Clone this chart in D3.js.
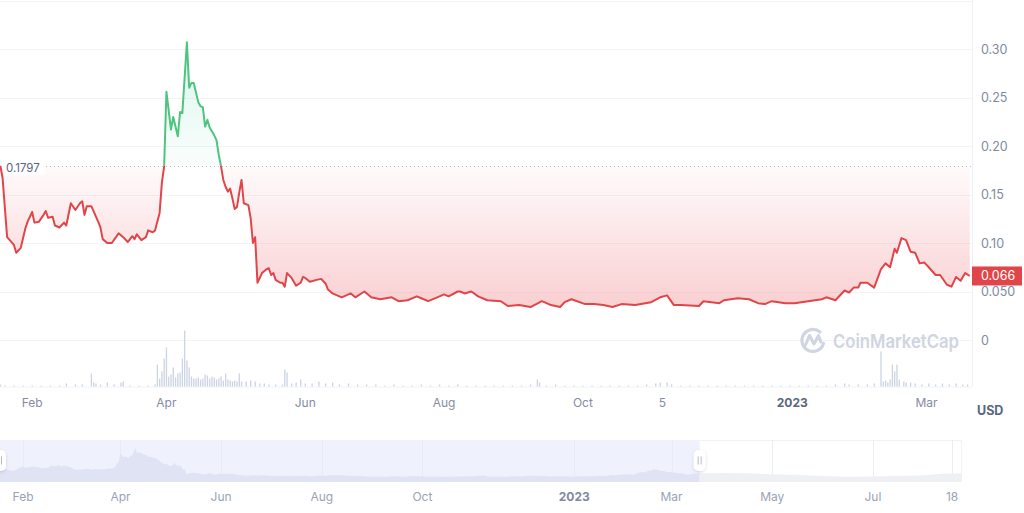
<!DOCTYPE html>
<html><head><meta charset="utf-8">
<script src="https://cdn.jsdelivr.net/npm/d3@7"></script>
<style>body{margin:0;background:#fff;font-family:Inter,"Noto Sans",sans-serif;}svg{display:block}</style>
</head><body><svg id="c" width="1024" height="513"></svg>
<script>
// ---------- DATA ----------
const basePrice = 0.1797;
const lastPrice = 0.066;
const pricePoints = [
["2022-01-18",0.1797],["2022-01-19",0.167],["2022-01-21",0.106],["2022-01-24",0.098],["2022-01-25",0.090],
["2022-01-27",0.095],["2022-01-29",0.115],["2022-01-30",0.122],["2022-02-01",0.132],["2022-02-02",0.121],
["2022-02-04",0.122],["2022-02-06",0.129],["2022-02-07",0.133],["2022-02-08",0.126],["2022-02-10",0.127],
["2022-02-11",0.118],["2022-02-13",0.116],["2022-02-15",0.121],["2022-02-16",0.118],["2022-02-18",0.141],
["2022-02-20",0.134],["2022-02-22",0.141],["2022-02-23",0.143],["2022-02-24",0.129],["2022-02-25",0.138],
["2022-02-27",0.138],["2022-03-02",0.122],["2022-03-03",0.116],["2022-03-04",0.104],["2022-03-06",0.100],
["2022-03-08",0.100],["2022-03-11",0.110],["2022-03-13",0.106],["2022-03-15",0.101],["2022-03-17",0.107],
["2022-03-18",0.104],["2022-03-19",0.109],["2022-03-21",0.103],["2022-03-23",0.106],["2022-03-24",0.113],
["2022-03-26",0.111],["2022-03-27",0.113],["2022-03-29",0.131],["2022-03-30",0.162],["2022-03-31",0.179],
["2022-04-01",0.256],["2022-04-03",0.217],["2022-04-04",0.230],["2022-04-06",0.210],["2022-04-07",0.235],
["2022-04-08",0.234],["2022-04-10",0.307],["2022-04-11",0.260],["2022-04-12",0.265],["2022-04-13",0.265],
["2022-04-15",0.245],["2022-04-16",0.241],["2022-04-17",0.240],["2022-04-18",0.220],["2022-04-19",0.227],
["2022-04-20",0.219],["2022-04-22",0.211],["2022-04-23",0.206],["2022-04-24",0.191],["2022-04-25",0.179],
["2022-04-26",0.165],["2022-04-27",0.158],["2022-04-28",0.153],["2022-04-29",0.156],["2022-04-30",0.146],
["2022-05-01",0.135],["2022-05-02",0.137],["2022-05-03",0.152],["2022-05-04",0.165],["2022-05-05",0.141],
["2022-05-07",0.139],["2022-05-08",0.126],["2022-05-09",0.100],["2022-05-10",0.106],["2022-05-11",0.059],
["2022-05-13",0.069],["2022-05-15",0.073],["2022-05-16",0.074],["2022-05-17",0.067],["2022-05-18",0.069],
["2022-05-19",0.062],["2022-05-21",0.059],["2022-05-22",0.059],["2022-05-23",0.055],["2022-05-24",0.069],
["2022-05-26",0.064],["2022-05-28",0.056],["2022-05-30",0.059],["2022-05-31",0.065],["2022-06-01",0.064],
["2022-06-03",0.060],["2022-06-06",0.062],["2022-06-08",0.063],["2022-06-10",0.058],["2022-06-11",0.052],
["2022-06-13",0.048],["2022-06-17",0.044],["2022-06-21",0.048],["2022-06-23",0.044],["2022-06-27",0.050],
["2022-06-30",0.044],["2022-07-04",0.042],["2022-07-09",0.044],["2022-07-12",0.040],["2022-07-16",0.041],
["2022-07-20",0.045],["2022-07-22",0.043],["2022-07-25",0.040],["2022-07-29",0.044],["2022-08-01",0.047],
["2022-08-03",0.045],["2022-08-07",0.050],["2022-08-08",0.050],["2022-08-10",0.048],["2022-08-13",0.050],
["2022-08-16",0.045],["2022-08-20",0.041],["2022-08-26",0.040],["2022-08-29",0.035],["2022-09-03",0.036],
["2022-09-08",0.034],["2022-09-13",0.040],["2022-09-17",0.036],["2022-09-21",0.034],["2022-09-23",0.039],
["2022-09-26",0.042],["2022-10-02",0.037],["2022-10-06",0.037],["2022-10-10",0.036],["2022-10-14",0.034],
["2022-10-18",0.037],["2022-10-24",0.036],["2022-10-31",0.039],["2022-11-04",0.044],["2022-11-07",0.046],
["2022-11-10",0.036],["2022-11-13",0.036],["2022-11-21",0.035],["2022-11-23",0.040],["2022-11-30",0.038],
["2022-12-02",0.041],["2022-12-08",0.043],["2022-12-13",0.042],["2022-12-17",0.038],["2022-12-20",0.037],
["2022-12-23",0.040],["2022-12-29",0.038],["2023-01-02",0.038],["2023-01-08",0.040],["2023-01-14",0.042],
["2023-01-16",0.044],["2023-01-20",0.041],["2023-01-24",0.051],["2023-01-26",0.049],["2023-01-28",0.054],
["2023-01-30",0.054],["2023-01-31",0.059],["2023-02-03",0.059],["2023-02-06",0.054],["2023-02-09",0.073],
["2023-02-11",0.079],["2023-02-13",0.075],["2023-02-15",0.094],["2023-02-16",0.090],["2023-02-18",0.105],
["2023-02-20",0.103],["2023-02-22",0.091],["2023-02-24",0.090],["2023-02-26",0.079],["2023-02-28",0.080],
["2023-03-02",0.075],["2023-03-05",0.067],["2023-03-07",0.067],["2023-03-10",0.057],["2023-03-12",0.055],
["2023-03-14",0.065],["2023-03-16",0.061],["2023-03-18",0.069],["2023-03-20",0.066]
];
const volumePoints = [
["2022-01-18",2],["2022-01-20",1],["2022-01-24",1],["2022-01-28",1],["2022-02-01",1],["2022-02-05",1],
["2022-02-09",1],["2022-02-13",1],["2022-02-16",3],["2022-02-20",2],["2022-02-23",2],["2022-02-27",13],
["2022-02-28",4],["2022-03-01",3],["2022-03-03",2],["2022-03-06",4],["2022-03-09",2],["2022-03-12",4],
["2022-03-13",5],["2022-03-16",1],["2022-03-20",1],["2022-03-24",1],["2022-03-27",2],["2022-03-28",22],
["2022-03-29",8],["2022-03-30",15],["2022-03-31",28],["2022-04-01",39],["2022-04-02",10],["2022-04-03",12],
["2022-04-04",19],["2022-04-05",9],["2022-04-06",13],["2022-04-07",14],["2022-04-08",28],["2022-04-09",56],
["2022-04-10",26],["2022-04-11",19],["2022-04-12",10],["2022-04-13",8],["2022-04-14",8],["2022-04-15",9],
["2022-04-16",7],["2022-04-17",8],["2022-04-18",12],["2022-04-19",11],["2022-04-20",8],["2022-04-21",10],
["2022-04-22",9],["2022-04-23",7],["2022-04-24",8],["2022-04-25",10],["2022-04-26",6],["2022-04-27",13],
["2022-04-28",7],["2022-04-29",6],["2022-04-30",5],["2022-05-01",6],["2022-05-02",5],["2022-05-03",13],
["2022-05-04",5],["2022-05-06",5],["2022-05-08",6],["2022-05-10",5],["2022-05-12",3],["2022-05-14",3],
["2022-05-16",2],["2022-05-19",2],["2022-05-22",2],["2022-05-23",17],["2022-05-24",14],["2022-05-26",3],
["2022-05-28",4],["2022-05-30",7],["2022-06-01",3],["2022-06-04",3],["2022-06-07",5],["2022-06-10",3],
["2022-06-13",4],["2022-06-16",2],["2022-06-20",3],["2022-06-24",2],["2022-06-28",2],["2022-07-02",2],
["2022-07-06",1],["2022-07-10",2],["2022-07-14",1],["2022-07-18",1],["2022-07-22",2],["2022-07-26",1],
["2022-07-30",2],["2022-08-03",1],["2022-08-07",2],["2022-08-11",1],["2022-08-15",1],["2022-08-19",1],
["2022-08-23",1],["2022-08-27",1],["2022-08-31",1],["2022-09-04",1],["2022-09-08",2],["2022-09-11",7],
["2022-09-12",4],["2022-09-15",1],["2022-09-19",2],["2022-09-23",1],["2022-09-27",1],["2022-10-01",1],
["2022-10-05",1],["2022-10-09",1],["2022-10-13",1],["2022-10-17",1],["2022-10-21",1],["2022-10-25",1],
["2022-10-29",2],["2022-11-02",3],["2022-11-04",4],["2022-11-07",4],["2022-11-09",2],["2022-11-13",1],
["2022-11-17",1],["2022-11-21",1],["2022-11-25",1],["2022-11-29",1],["2022-12-03",1],["2022-12-07",1],
["2022-12-11",1],["2022-12-15",1],["2022-12-19",1],["2022-12-23",1],["2022-12-27",1],["2022-12-31",1],
["2023-01-04",1],["2023-01-08",1],["2023-01-12",1],["2023-01-16",1],["2023-01-20",2],["2023-01-24",3],
["2023-01-26",2],["2023-01-30",2],["2023-02-03",2],["2023-02-06",3],["2023-02-09",35],["2023-02-10",5],
["2023-02-11",6],["2023-02-12",4],["2023-02-13",7],["2023-02-14",22],["2023-02-15",15],["2023-02-16",22],
["2023-02-17",7],["2023-02-19",5],["2023-02-20",4],["2023-02-22",4],["2023-02-24",3],["2023-02-27",2],
["2023-03-02",3],["2023-03-05",2],["2023-03-08",3],["2023-03-11",2],["2023-03-14",3],["2023-03-17",2],
["2023-03-19",2]
];
// navigator history after the visible window
const navExtraPoints = [
["2023-04-01",0.070],["2023-04-15",0.067],["2023-05-01",0.058],["2023-05-15",0.052],["2023-06-01",0.042],
["2023-06-15",0.035],["2023-07-01",0.037],["2023-07-15",0.042],["2023-08-01",0.050],["2023-08-12",0.062],
["2023-08-24",0.067]
];
const yTickValues = [0, 0.05, 0.10, 0.15, 0.20, 0.25, 0.30];
const yTickLabels = ["0", "0.050", "0.10", "0.15", "0.20", "0.25", "0.30"];
const xTicks = [["2022-02-01","Feb"],["2022-04-01","Apr"],["2022-06-01","Jun"],["2022-08-01","Aug"],
  ["2022-10-01","Oct"],["2022-11-05","5"],["2023-01-01","2023"],["2023-03-01","Mar"]];
const navTicks = [["2022-02-01","Feb"],["2022-04-01","Apr"],["2022-06-01","Jun"],["2022-08-01","Aug"],
  ["2022-10-01","Oct"],["2023-01-01","2023"],["2023-03-01","Mar"],["2023-05-01","May"],
  ["2023-07-01","Jul"],["2023-08-18","18"]];

// ---------- CHART ----------
const parse = d3.utcParse("%Y-%m-%d");
const price = pricePoints.map(d => ({date: parse(d[0]), value: d[1]}));
const volume = volumePoints.map(d => ({date: parse(d[0]), value: d[1]}));
const navData = price.concat(navExtraPoints.map(d => ({date: parse(d[0]), value: d[1]})));

const svg = d3.select("#c");
const W = 972, Y0 = 340, VB = 386.5;
const x = d3.scaleUtc().domain([parse("2022-01-18"), parse("2023-03-21")]).range([0.3, W]);
const y = d3.scaleLinear().domain([0, 0.30]).range([Y0, 49]);
const yv = d3.scaleLinear().domain([0, 60]).range([VB, VB - 60]);
const yb = y(basePrice);

const defs = svg.append("defs");
const gR = defs.append("linearGradient").attr("id","gR").attr("gradientUnits","userSpaceOnUse")
  .attr("x1",0).attr("x2",0).attr("y1",yb).attr("y2",300);
gR.append("stop").attr("offset",0).attr("stop-color","#ea3943").attr("stop-opacity",0.02);
gR.append("stop").attr("offset",1).attr("stop-color","#ea3943").attr("stop-opacity",0.23);
const gG = defs.append("linearGradient").attr("id","gG").attr("gradientUnits","userSpaceOnUse")
  .attr("x1",0).attr("x2",0).attr("y1",42).attr("y2",yb);
gG.append("stop").attr("offset",0).attr("stop-color","#16c784").attr("stop-opacity",0.16);
gG.append("stop").attr("offset",1).attr("stop-color","#16c784").attr("stop-opacity",0.02);
defs.append("clipPath").attr("id","cA").append("rect").attr("x",0).attr("y",0).attr("width",W).attr("height",yb);
defs.append("clipPath").attr("id","cB").append("rect").attr("x",0).attr("y",yb).attr("width",W).attr("height",400);
const sh = defs.append("filter").attr("id","sh").attr("x","-80%").attr("y","-80%").attr("width","260%").attr("height","260%");
sh.append("feDropShadow").attr("dx",0).attr("dy",1).attr("stdDeviation",1.5).attr("flood-color","#58667e").attr("flood-opacity",0.25);

// grid
svg.append("line").attr("x1",0).attr("x2",W).attr("y1",1.5).attr("y2",1.5).attr("stroke","#f1f3f6");
svg.selectAll(".grid").data(yTickValues).enter().append("line")
  .attr("x1",0).attr("x2",W).attr("y1",d=>Math.round(y(d))+0.5).attr("y2",d=>Math.round(y(d))+0.5)
  .attr("stroke","#f3f4f7");
svg.append("line").attr("x1",W+0.5).attr("x2",W+0.5).attr("y1",0).attr("y2",VB).attr("stroke","#eff2f5");
svg.append("line").attr("x1",0).attr("x2",W).attr("y1",VB+0.5).attr("y2",VB+0.5).attr("stroke","#eff2f5");

// watermark
const wm = svg.append("g").attr("fill","none").attr("stroke","#cfd5e1");
wm.append("path").attr("d","M823.5,343.5 A11,11 0 1 1 820,332").attr("stroke-width",3.2).attr("stroke-linecap","round");
wm.append("path").attr("d","M805,346 L809.5,335.5 L814,344 L818.5,335.5 L821,342").attr("stroke-width",3).attr("stroke-linejoin","round").attr("stroke-linecap","round");
svg.append("text").attr("x",833).attr("y",347.5).attr("font-size",19).attr("font-weight",600)
  .attr("textLength",126).attr("lengthAdjust","spacingAndGlyphs")
  .attr("fill","#cfd5e1").text("CoinMarketCap");

// volume
svg.append("g").selectAll("rect").data(volume).enter().append("rect")
  .attr("x",d=>x(d.date)-0.6).attr("width",1.3)
  .attr("y",d=>yv(d.value)).attr("height",d=>VB-yv(d.value)).attr("fill","#ccd3e2");

// areas
const area = d3.area().x(d=>x(d.date)).y0(yb).y1(d=>y(d.value));
svg.append("path").datum(price).attr("d",area).attr("fill","url(#gG)").attr("clip-path","url(#cA)");
svg.append("path").datum(price).attr("d",area).attr("fill","url(#gR)").attr("clip-path","url(#cB)");

// baseline dotted
svg.append("line").attr("x1",46).attr("x2",W).attr("y1",Math.round(yb)+0.5).attr("y2",Math.round(yb)+0.5)
  .attr("stroke","#b8c0cc").attr("stroke-dasharray","1 3");

// lines
const line = d3.line().x(d=>x(d.date)).y(d=>y(d.value));
svg.append("path").datum(price).attr("d",line).attr("fill","none").attr("stroke","#4fc47f")
  .attr("stroke-width",2).attr("stroke-linejoin","round").attr("clip-path","url(#cA)");
svg.append("path").datum(price).attr("d",line).attr("fill","none").attr("stroke","#e04649")
  .attr("stroke-width",2).attr("stroke-linejoin","round").attr("clip-path","url(#cB)");

// base label
svg.append("rect").attr("x",4).attr("y",158).attr("width",41).attr("height",17).attr("fill","#fff").attr("rx",2);
svg.append("text").attr("x",6).attr("y",171.5).attr("font-size",11.5).attr("fill","#58667e").text(basePrice.toFixed(4));

// y axis labels
svg.selectAll(".yl").data(yTickValues).enter().append("text")
  .attr("x",981).attr("y",d=>y(d)+4.5).attr("font-size",12.5).attr("fill","#808a9d")
  .text((d,i)=>yTickLabels[i]);

// current price tag
svg.append("rect").attr("x",W).attr("y",y(lastPrice)-9.5).attr("width",50).attr("height",19).attr("fill","#e04649");
svg.append("text").attr("x",981).attr("y",y(lastPrice)+4.5).attr("font-size",12.5).attr("fill","#fff").text(lastPrice.toFixed(3));

// x axis labels
svg.selectAll(".xl").data(xTicks).enter().append("text")
  .attr("x",d=>x(parse(d[0]))).attr("y",407).attr("text-anchor","middle").attr("font-size",12)
  .attr("font-weight",d=>d[1]==="2023"?700:400)
  .attr("fill",d=>d[1]==="2023"?"#58667e":"#858ca2").text(d=>d[1]);
svg.append("text").attr("x",977).attr("y",415).attr("font-size",12.5).attr("font-weight",700)
  .attr("fill","#58667e").text("USD");

// ---------- NAVIGATOR ----------
const NT = 440, NB = 482, NW = 962;
const nx = d3.scaleUtc().domain([parse("2022-01-18"), parse("2023-08-24")]).range([0, NW]);
const ny = d3.scaleLinear().domain([0, 0.31]).range([480.4, 447.7]);
const selEnd = nx(parse("2023-03-18"));
defs.append("clipPath").attr("id","nS").append("rect").attr("x",0).attr("y",NT).attr("width",selEnd).attr("height",NB-NT);
defs.append("clipPath").attr("id","nU").append("rect").attr("x",selEnd).attr("y",NT).attr("width",NW-selEnd).attr("height",NB-NT);
svg.append("rect").attr("x",0.5).attr("y",NT+0.5).attr("width",NW-1).attr("height",NB-NT-1)
  .attr("fill","#fff").attr("stroke","#f0f2f6");
svg.append("rect").attr("x",0).attr("y",NT).attr("width",selEnd).attr("height",NB-NT).attr("fill","#eff1fc");
svg.selectAll(".ng").data(navTicks).enter().append("line")
  .attr("x1",d=>Math.round(nx(parse(d[0])))+0.5).attr("x2",d=>Math.round(nx(parse(d[0])))+0.5)
  .attr("y1",NT).attr("y2",NB).attr("stroke","#e6e9f4").attr("stroke-width",0.8);
const narea = d3.area().x(d=>nx(d.date)).y0(NB).y1(d=>ny(d.value));
svg.append("path").datum(navData).attr("d",narea).attr("fill","#dfe3f3").attr("clip-path","url(#nS)");
svg.append("path").datum(navData).attr("d",narea).attr("fill","#eef0f4").attr("clip-path","url(#nU)");
function handle(cx){
  const g = svg.append("g");
  g.append("rect").attr("x",cx-6).attr("y",450).attr("width",12).attr("height",21).attr("rx",5)
    .attr("fill","#fff").attr("filter","url(#sh)");
  [-1.5,1.5].forEach(o=>g.append("line").attr("x1",cx+o).attr("x2",cx+o).attr("y1",456.5).attr("y2",464.5)
    .attr("stroke","#a9b1c2").attr("stroke-width",0.9));
}
handle(0); handle(selEnd);
svg.selectAll(".nl").data(navTicks).enter().append("text")
  .attr("x",d=>nx(parse(d[0]))).attr("y",501).attr("text-anchor","middle").attr("font-size",12)
  .attr("font-weight",d=>d[1]==="2023"?700:400)
  .attr("fill",d=>d[1]==="2023"?"#808a9d":"#9aa2b5").text(d=>d[1]);
</script></body></html>
